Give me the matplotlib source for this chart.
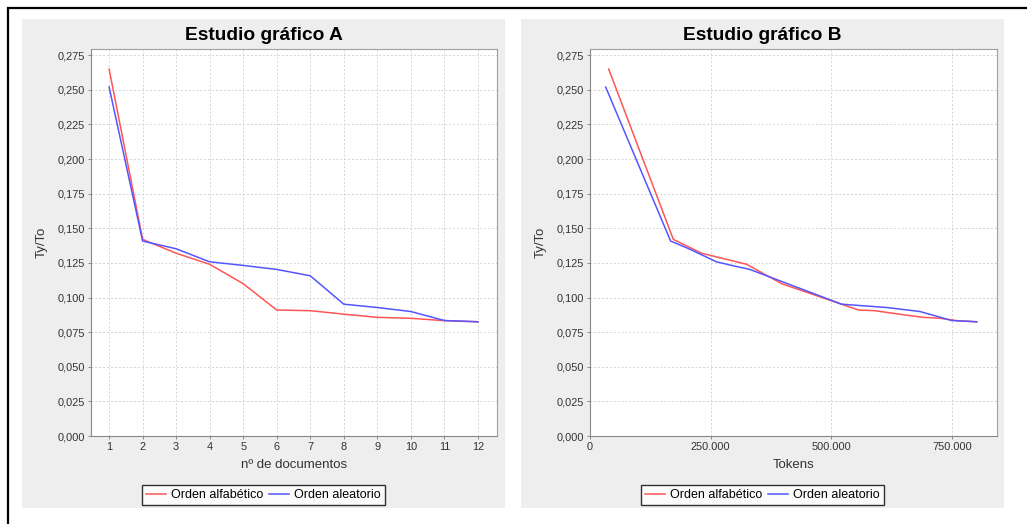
import matplotlib
matplotlib.use("Agg")
import matplotlib.pyplot as plt
from matplotlib.patches import Rectangle
from matplotlib.ticker import FuncFormatter, MultipleLocator

plt.rcParams['font.family'] = ['Liberation Sans', 'DejaVu Sans']

# Ty/To por número de documentos
docs = list(range(1, 13))
alfa_docs = [0.265, 0.142, 0.132, 0.124, 0.110, 0.091, 0.0905, 0.088, 0.0857, 0.085, 0.0833, 0.0825]
alea_docs = [0.252, 0.1408, 0.1352, 0.1258, 0.1232, 0.1203, 0.1157, 0.0952, 0.0928, 0.0899, 0.0834, 0.0825]

# Ty/To por número de tokens acumulados
alfa_tokens = [38700, 172600, 231000, 324500, 397000, 556000, 590000, 640000, 690000, 725000, 760000, 801000]
alea_tokens = [32500, 167000, 205000, 262000, 293500, 331000, 366000, 521000, 614500, 683500, 749000, 801000]

RED = '#FF5555'
BLUE = '#5555FF'
W, H = 1027, 524

fig = plt.figure(figsize=(W / 100, H / 100), dpi=100)
fig.patch.set_facecolor('white')


def px(x0, y0, x1, y1):
    # rectangle in figure fraction from pixel coords (origin top-left)
    return [x0 / W, 1 - y1 / H, (x1 - x0) / W, (y1 - y0) / H]


# outer frame and grey chart panels, kept behind the axes
fig.add_artist(Rectangle((8 / W, -0.1), 1.1, 1 - 8 / H + 0.1, transform=fig.transFigure,
                         fill=False, edgecolor='black', linewidth=1.6, zorder=-2))
for x0, x1 in [(22, 505), (521, 1004)]:
    b = px(x0, 19, x1, 508)
    fig.add_artist(Rectangle((b[0], b[1]), b[2], b[3], transform=fig.transFigure,
                             facecolor='#EEEEEE', edgecolor='none', zorder=-1))

comma = FuncFormatter(lambda v, p: f"{v:.3f}".replace('.', ','))
miles = FuncFormatter(lambda v, p: f"{int(round(v)):,}".replace(',', '.'))


def style(ax, title, xlabel, panel_x):
    ax.set_facecolor('white')
    ax.set_ylim(0, 0.2795)
    ax.yaxis.set_major_locator(MultipleLocator(0.025))
    ax.yaxis.set_major_formatter(comma)
    ax.grid(True, color='#D4D4D4', linestyle=(0, (2, 2)), linewidth=0.7)
    for s in ax.spines.values():
        s.set_color('#A0A0A0')
        s.set_linewidth(0.8)
    ax.spines['left'].set_color('#888888')
    ax.spines['bottom'].set_color('#888888')
    ax.tick_params(labelsize=7.9, length=2.5, width=0.7, color='#888888', pad=2, labelcolor='#333333')
    # chart title is centred on the whole panel, not on the plot area
    fig.text(panel_x / W, 1 - 40 / H, title, ha='center', va='baseline',
             fontsize=13.8, fontweight='bold')
    ax.set_xlabel(xlabel, fontsize=9.5, labelpad=5, color='#333333')
    ax.set_ylabel('Ty/To', fontsize=9.5, labelpad=7, color='#333333')
    leg = fig.legend(handles=ax.get_lines(), loc='center', bbox_to_anchor=(panel_x / W, 1 - 495 / H),
                     ncol=2, fontsize=9, frameon=True, fancybox=False, handlelength=1.6,
                     handletextpad=0.4, columnspacing=0.5, borderpad=0.35, borderaxespad=0)
    leg.get_frame().set_edgecolor('black')
    leg.get_frame().set_linewidth(1.0)


ax1 = fig.add_axes(px(91, 49, 497, 436))
ax1.plot(docs, alfa_docs, color=RED, lw=1.1, label='Orden alfabético')
ax1.plot(docs, alea_docs, color=BLUE, lw=1.1, label='Orden aleatorio')
ax1.set_xlim(0.46, 12.57)
ax1.set_xticks(docs)
style(ax1, 'Estudio gráfico A', 'nº de documentos', 263.5)

ax2 = fig.add_axes(px(590, 49, 997, 436))
ax2.plot(alfa_tokens, alfa_docs, color=RED, lw=1.1, label='Orden alfabético')
ax2.plot(alea_tokens, alea_docs, color=BLUE, lw=1.1, label='Orden aleatorio')
ax2.set_xlim(0, 843000)
ax2.xaxis.set_major_locator(MultipleLocator(250000))
ax2.xaxis.set_major_formatter(miles)
style(ax2, 'Estudio gráfico B', 'Tokens', 762.5)

fig.savefig('out.png', dpi=100)
